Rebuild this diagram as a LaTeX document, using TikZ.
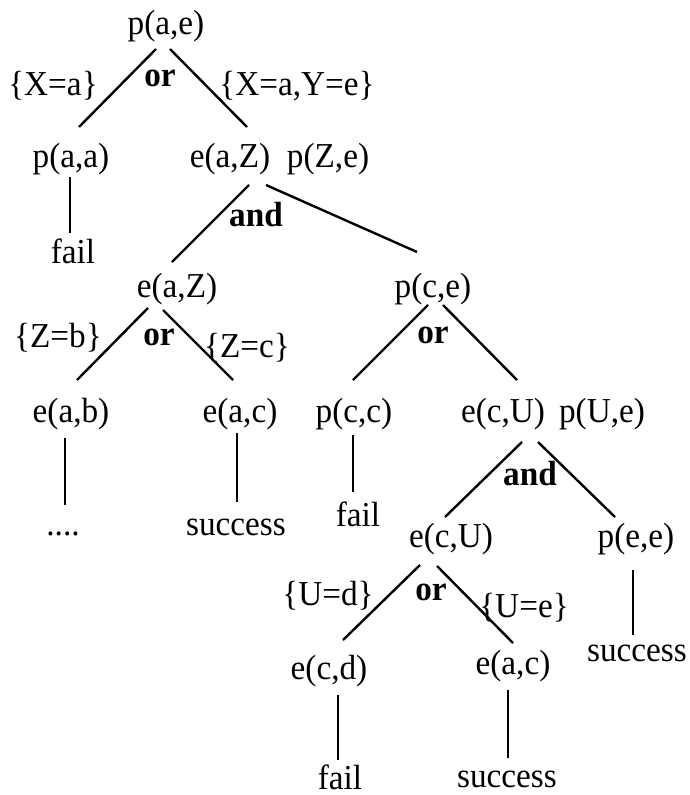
\documentclass[tikz,border=0pt]{standalone}
\usepackage{fontspec}
\setmainfont{Liberation Serif}[FakeStretch=0.95]
\usetikzlibrary{calc}
\begin{document}
\begin{tikzpicture}[x=1pt,y=-1pt,
  every node/.style={inner sep=0pt, text height=16pt, text depth=2pt, font=\fontsize{35}{38}\selectfont},
  goal/.style={},
  op/.style={font=\fontsize{35}{38}\selectfont\bfseries},
  edge/.style={line width=2.4pt}]
\useasboundingbox (0,0) rectangle (690,795);
% nodes
\node[goal] (pae) at (166,27) {p(a,e)};
\node (lXa) at (53,88) {\{X=a\}};
\node[op] (or1) at (160,79) {or};
\node (lXaYe) at (297,88) {\{X=a,Y=e\}};
\node[goal] (paa) at (71,160) {p(a,a)};
\node[goal] (eaZ) at (230,160) {e(a,Z)};
\node[goal] (pZe) at (328,160) {p(Z,e)};
\node[goal] (fail1) at (73,256) {fail};
\node[op] (and1) at (256,219) {and};
\node[goal] (eaZb) at (177,290) {e(a,Z)};
\node[goal] (pce) at (433,290) {p(c,e)};
\node (lZb) at (58,340) {\{Z=b\}};
\node[op] (or2) at (159,338) {or};
\node (lZc) at (247,350) {\{Z=c\}};
\node[op] (or3) at (433,336) {or};
\node[goal] (eab) at (71,415) {e(a,b)};
\node[goal] (eac) at (240,415) {e(a,c)};
\node[goal] (dots) at (63,528) {....};
\node[goal] (succ1) at (236,528) {success};
\node[goal] (pcc) at (354,415) {p(c,c)};
\node[goal] (ecU) at (503,415) {e(c,U)};
\node[goal] (pUe) at (602,415) {p(U,e)};
\node[goal] (fail2) at (358,519) {fail};
\node[op] (and2) at (530,478) {and};
\node[goal] (ecUb) at (451,540) {e(c,U)};
\node[goal] (pee) at (636,540) {p(e,e)};
\node[goal] (succ2) at (637,654) {success};
\node (lUd) at (328,598) {\{U=d\}};
\node[op] (or4) at (431,593) {or};
\node (lUe) at (524,610) {\{U=e\}};
\node[goal] (ecd) at (329,672) {e(c,d)};
\node[goal] (eacb) at (513,667) {e(a,c)};
\node[goal] (fail3) at (340,782) {fail};
\node[goal] (succ3) at (507,780) {success};
% connectors
\draw[edge] ($(pae)+(-10,22)$) -- ($(paa)+(8,-33)$);
\draw[edge] ($(pae)+(4,22)$) -- ($(eaZ)+(17,-33)$);
\draw[edge] ($(paa)+(-1,17)$) -- ($(fail1)+(-3,-23)$);
\draw[edge] ($(eaZ)+(19,25)$) -- ($(eaZb)+(-5,-28)$);
\draw[edge] ($(eaZ)+(36,25)$) -- ($(pce)+(-16,-38)$);
\draw[edge] ($(eaZb)+(-29,18)$) -- ($(eab)+(6,-35)$);
\draw[edge] ($(eaZb)+(-14,20)$) -- ($(eac)+(-7,-35)$);
\draw[edge] ($(pce)+(-5,15)$) -- ($(pcc)+(-1,-35)$);
\draw[edge] ($(pce)+(10,15)$) -- ($(ecU)+(14,-35)$);
\draw[edge] ($(eab)+(-6,23)$) -- ($(dots)+(2,-23)$);
\draw[edge] ($(eac)+(-3,18)$) -- ($(succ1)+(1,-26)$);
\draw[edge] ($(pcc)+(-1,20)$) -- ($(fail2)+(-5,-27)$);
\draw[edge] ($(ecU)+(19,27)$) -- ($(ecUb)+(-6,-23)$);
\draw[edge] ($(ecU)+(35,27)$) -- ($(pee)+(-21,-23)$);
\draw[edge] ($(pee)+(-3,30)$) -- ($(succ2)+(-4,-19)$);
\draw[edge] ($(ecUb)+(-31,25)$) -- ($(ecd)+(14,-32)$);
\draw[edge] ($(ecUb)+(-14,26)$) -- ($(eacb)+(0,-24)$);
\draw[edge] ($(ecd)+(9,23)$) -- ($(fail3)+(-2,-22)$);
\draw[edge] ($(eacb)+(-5,23)$) -- ($(succ3)+(1,-22)$);
\end{tikzpicture}
\end{document}
